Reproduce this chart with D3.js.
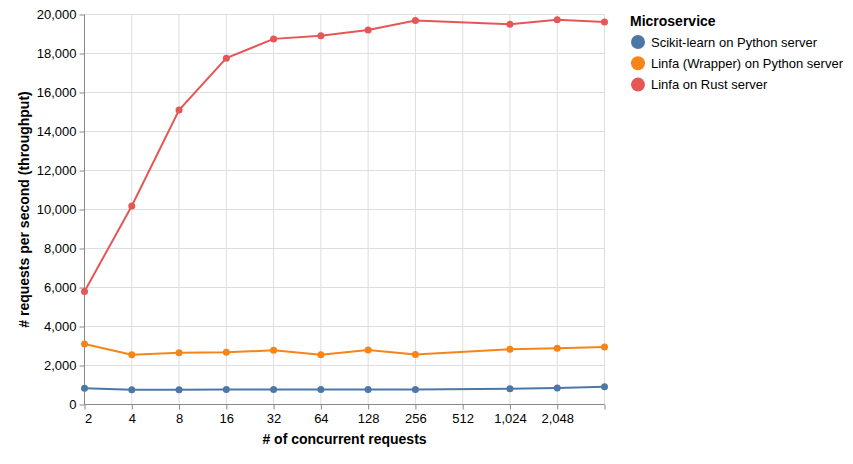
<!DOCTYPE html>
<html><head><meta charset="utf-8">
<script src="https://cdn.jsdelivr.net/npm/d3@7"></script>
<style>body{margin:0;background:#fff}svg{display:block;font-family:"Liberation Sans",Arial,sans-serif}</style>
</head><body><svg id="c" width="853" height="464"></svg>
<script>
const concurrency = [2, 4, 8, 16, 32, 64, 128, 256, 1024, 2048, 4096];
const seriesNames = ["Scikit-learn on Python server", "Linfa (Wrapper) on Python server", "Linfa on Rust server"];
const sklearnPython = [830, 760, 760, 775, 775, 775, 775, 775, 810, 845, 915];
const linfaWrapperPython = [3100, 2555, 2660, 2675, 2780, 2555, 2795, 2570, 2830, 2880, 2950];
const linfaRust = [5800, 10180, 15100, 17760, 18750, 18905, 19205, 19690, 19505, 19730, 19610];
const xTicks = [2, 4, 8, 16, 32, 64, 128, 256, 512, 1024, 2048, 4096];
const xTickLabels = ["2", "4", "8", "16", "32", "64", "128", "256", "512", "1,024", "2,048", ""];
const yTicks = [0, 2000, 4000, 6000, 8000, 10000, 12000, 14000, 16000, 18000, 20000];
const colors = ["#4c78a8", "#f58518", "#e45756"];

const allSeries = [sklearnPython, linfaWrapperPython, linfaRust];
const svg = d3.select("#c");
const L = 84.5, T = 14.5, W = 520, H = 390;
const x = d3.scaleLog().base(2).domain([2, 4096]).range([L, L + W]);
const y = d3.scaleLinear().domain([0, 20000]).range([T + H, T]);
const fmt = d3.format(",");
const axisCol = "#888", gridCol = "#ddd";

// grid
const g = svg.append("g");
g.selectAll(".gx").data(xTicks).join("line")
  .attr("x1", d => x(d)).attr("x2", d => x(d)).attr("y1", T).attr("y2", T + H)
  .attr("stroke", gridCol);
g.selectAll(".gy").data(yTicks).join("line")
  .attr("x1", L).attr("x2", L + W).attr("y1", d => y(d)).attr("y2", d => y(d))
  .attr("stroke", gridCol);

// x axis
const xa = svg.append("g").attr("transform", `translate(0,${T + H})`)
  .call(d3.axisBottom(x).tickValues(xTicks).tickSize(5).tickPadding(2)
    .tickFormat((d, i) => xTickLabels[i]));
// y axis
const ya = svg.append("g").attr("transform", `translate(${L},0)`)
  .call(d3.axisLeft(y).tickValues(yTicks).tickSize(5).tickPadding(3).tickFormat(fmt));
[xa, ya].forEach(a => {
  a.select(".domain").attr("stroke", axisCol);
  a.selectAll(".tick line").attr("stroke", axisCol);
  a.selectAll(".tick text").attr("fill", "#000").attr("font-size", 13)
    .attr("font-family", "Liberation Sans, Arial, sans-serif");
});
xa.select(".domain").attr("d", `M${L},0H${L + W}`);
ya.select(".domain").attr("d", `M0,${T}V${T + H}`);
xa.selectAll(".tick text").attr("dy", "0.9em");
xa.selectAll(".tick").filter(d => d === 2).select("text").attr("text-anchor", "start");

// axis titles
svg.append("text").attr("x", L + W / 2).attr("y", 444).attr("text-anchor", "middle")
  .attr("font-weight", "bold").attr("font-size", 14).text("# of concurrent requests");
svg.append("text").attr("transform", `translate(29,${T + H / 2}) rotate(-90)`)
  .attr("text-anchor", "middle").attr("font-weight", "bold").attr("font-size", 14)
  .text("# requests per second (throughput)");

// lines + points
const line = d3.line().x((d, i) => x(concurrency[i])).y(d => y(d));
allSeries.forEach((s, k) => {
  svg.append("path").datum(s).attr("d", line).attr("fill", "none")
    .attr("stroke", colors[k]).attr("stroke-width", 2);
});
allSeries.forEach((s, k) => {
  svg.append("g").selectAll("circle").data(s).join("circle")
    .attr("cx", (d, i) => x(concurrency[i])).attr("cy", d => y(d)).attr("r", 3.5)
    .attr("fill", colors[k]);
});

// legend
const lg = svg.append("g");
lg.append("text").attr("x", 630).attr("y", 26).attr("font-weight", "bold")
  .attr("font-size", 14).text("Microservice");
seriesNames.forEach((n, k) => {
  const cy = 42 + k * 21.3;
  lg.append("circle").attr("cx", 638).attr("cy", cy).attr("r", 7).attr("fill", colors[k]);
  lg.append("text").attr("x", 651).attr("y", cy).attr("dy", "0.35em")
    .attr("font-size", 13).text(n);
});
</script></body></html>
